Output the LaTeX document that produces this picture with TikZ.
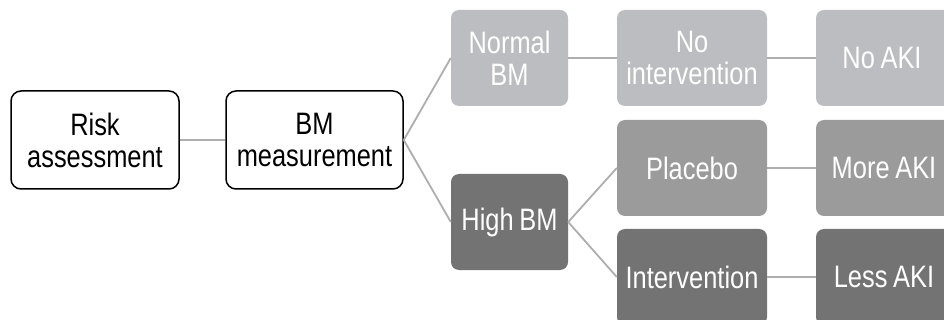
\documentclass[tikz,border=0pt]{standalone}
\usepackage{fontspec}
\setmainfont{Liberation Sans}[FakeStretch=0.82, WordSpace=0.8]
\definecolor{lightbox}{HTML}{BCBDC0}
\definecolor{midbox}{HTML}{9B9B9B}
\definecolor{darkbox}{HTML}{737373}
\definecolor{linkgray}{HTML}{AEAEAE}
\begin{document}
\begin{tikzpicture}[x=1pt,y=-1pt,
  base/.style={rectangle, rounded corners=8pt, align=center, inner sep=2pt,
    font=\fontsize{31}{32}\selectfont, minimum height=96pt},
  whitebox/.style={base, draw=black, line width=1.5pt, fill=white, text=black, rounded corners=10pt, minimum height=98pt},
  graybox/.style={base, fill=#1, text=white},
  link/.style={draw=linkgray, line width=1.8pt}]
\clip (0,0) rectangle (944,320);
\fill[white] (0,0) rectangle (944,320);
\node[whitebox, minimum width=168pt] (risk) at (95,140) {Risk\\assessment};
\node[whitebox, minimum width=177pt] (bm) at (314.5,140) {BM\\measurement};
\node[graybox=lightbox, minimum width=117pt] (normal) at (509.5,58) {Normal\\BM};
\node[graybox=darkbox, minimum width=117pt] (high) at (509.5,222) {High BM};
\node[graybox=lightbox, minimum width=150pt] (noint) at (692,58) {No\\intervention};
\node[graybox=midbox, minimum width=150pt] (placebo) at (692,168) {Placebo};
\node[graybox=darkbox, minimum width=150pt] (interv) at (692,277) {Intervention};
\node[graybox=lightbox, minimum width=150pt] (noaki) at (891,58) {No~AKI\hspace*{18pt}};
\node[graybox=midbox, minimum width=150pt] (moreaki) at (891,168) {More~AKI\hspace*{14pt}};
\node[graybox=darkbox, minimum width=150pt] (lessaki) at (891,277) {Less~AKI\hspace*{14pt}};
\draw[link] (risk.east) -- (bm.west);
\draw[link] (bm.east) -- (normal.west);
\draw[link] (bm.east) -- (high.west);
\draw[link] (high.east) -- (placebo.west);
\draw[link] (high.east) -- (interv.west);
\draw[link] (normal.east) -- (noint.west);
\draw[link] (noint.east) -- (noaki.west);
\draw[link] (placebo.east) -- (moreaki.west);
\draw[link] (interv.east) -- (lessaki.west);
\end{tikzpicture}
\end{document}
